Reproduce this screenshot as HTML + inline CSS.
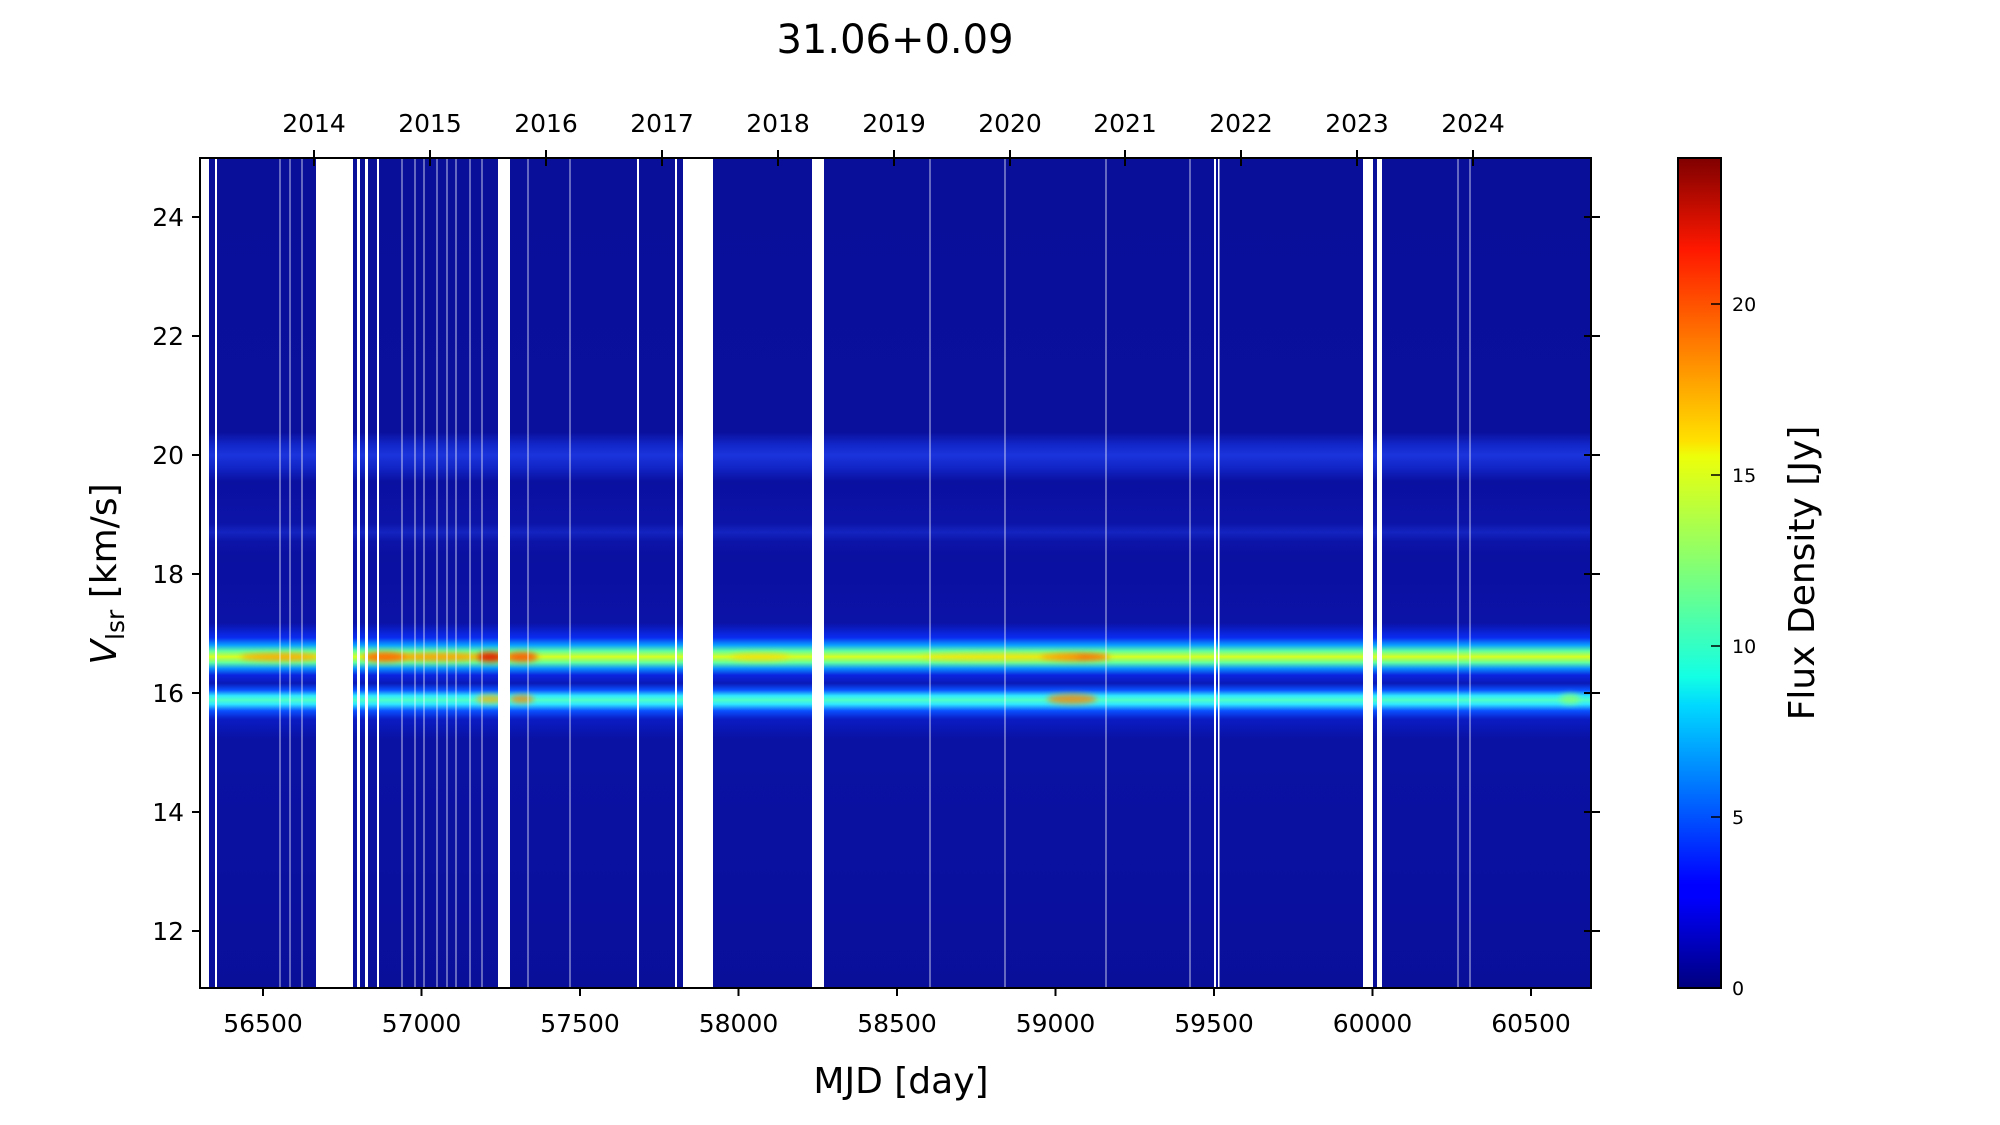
<!DOCTYPE html>
<html><head><meta charset="utf-8"><style>
html,body{margin:0;padding:0;background:#fff;}
svg{display:block;font-family:"DejaVu Sans","Liberation Sans",sans-serif;}
</style></head><body>
<svg width="2000" height="1125" viewBox="0 0 2000 1125" xmlns="http://www.w3.org/2000/svg">
<defs>
<linearGradient id="spec" x1="0" y1="158" x2="0" y2="988" gradientUnits="userSpaceOnUse">
<stop offset="0" stop-color="#0a0f9a"/>
<stop offset="0.33" stop-color="#0a0f9c"/>
<stop offset="0.345" stop-color="#1226c8"/>
<stop offset="0.358" stop-color="#1a34dc"/>
<stop offset="0.372" stop-color="#1226c8"/>
<stop offset="0.39" stop-color="#0a10a0"/>
<stop offset="0.44" stop-color="#0c14a8"/>
<stop offset="0.451" stop-color="#1424c0"/>
<stop offset="0.462" stop-color="#0c14a8"/>
<stop offset="0.48" stop-color="#0a10a0"/>
<stop offset="0.56" stop-color="#0b12a6"/>
<stop offset="0.578" stop-color="#0a2cf0"/>
<stop offset="0.587" stop-color="#0aa0ff"/>
<stop offset="0.594" stop-color="#60ffa0"/>
<stop offset="0.601" stop-color="#d8ff20"/>
<stop offset="0.608" stop-color="#60ffa0"/>
<stop offset="0.615" stop-color="#0a90ff"/>
<stop offset="0.623" stop-color="#0a24e0"/>
<stop offset="0.633" stop-color="#0a1ab8"/>
<stop offset="0.641" stop-color="#0a50ff"/>
<stop offset="0.648" stop-color="#30e8ff"/>
<stop offset="0.653" stop-color="#50ffc8"/>
<stop offset="0.658" stop-color="#30e8ff"/>
<stop offset="0.666" stop-color="#0a50ff"/>
<stop offset="0.676" stop-color="#0a1cc4"/>
<stop offset="0.7" stop-color="#0a12a4"/>
<stop offset="1" stop-color="#0a0f9a"/>
</linearGradient>
<linearGradient id="jet" x1="0" y1="988" x2="0" y2="158" gradientUnits="userSpaceOnUse">
<stop offset="0" stop-color="#00007f"/>
<stop offset="0.11" stop-color="#0000ff"/>
<stop offset="0.125" stop-color="#0000ff"/>
<stop offset="0.34" stop-color="#00d8ff"/>
<stop offset="0.375" stop-color="#13ffe4"/>
<stop offset="0.5" stop-color="#7dff7a"/>
<stop offset="0.64" stop-color="#ecff0a"/>
<stop offset="0.66" stop-color="#ffe000"/>
<stop offset="0.89" stop-color="#ff1800"/>
<stop offset="1" stop-color="#7f0000"/>
</linearGradient>
<filter id="bl"><feGaussianBlur stdDeviation="3"/></filter>
</defs>

<text x="895" y="53" font-size="40" text-anchor="middle">31.06+0.09</text>

<rect x="200" y="158" width="1391" height="830" fill="url(#spec)"/>
<g filter="url(#bl)">
<ellipse cx="280" cy="657" rx="40" ry="4" fill="#ff8a00" opacity="0.7"/>
<ellipse cx="390" cy="657" rx="25" ry="4" fill="#ffa000" opacity="0.6"/>
<ellipse cx="385" cy="657" rx="22" ry="5" fill="#ff5a00" opacity="0.8"/>
<ellipse cx="440" cy="657" rx="40" ry="4" fill="#ff7a00" opacity="0.7"/>
<ellipse cx="490" cy="657" rx="14" ry="5" fill="#e01000" opacity="0.9"/>
<ellipse cx="522" cy="657" rx="16" ry="5" fill="#ff4000" opacity="0.8"/>
<ellipse cx="490" cy="699" rx="14" ry="4" fill="#ffb000" opacity="0.8"/>
<ellipse cx="522" cy="699" rx="12" ry="4" fill="#ff8000" opacity="0.8"/>
<ellipse cx="760" cy="657" rx="30" ry="4" fill="#ffd000" opacity="0.6"/>
<ellipse cx="1075" cy="657" rx="35" ry="4" fill="#ff5000" opacity="0.8"/>
<ellipse cx="1072" cy="699" rx="25" ry="5" fill="#ff8000" opacity="0.8"/>
<ellipse cx="1000" cy="657" rx="80" ry="4" fill="#ffd000" opacity="0.5"/>
<ellipse cx="1570" cy="699" rx="10" ry="5" fill="#90ff60" opacity="0.7"/>
</g>
<g fill="#fff">
<rect x="200" y="158" width="9" height="830"/>
<rect x="215" y="158" width="2" height="830"/>
<rect x="316" y="158" width="37" height="830"/>
<rect x="357" y="158" width="3" height="830"/>
<rect x="365" y="158" width="3" height="830"/>
<rect x="377" y="158" width="2" height="830"/>
<rect x="498" y="158" width="12" height="830"/>
<rect x="637" y="158" width="2" height="830"/>
<rect x="675" y="158" width="2" height="830"/>
<rect x="683" y="158" width="30" height="830"/>
<rect x="812" y="158" width="12" height="830"/>
<rect x="1363" y="158" width="10" height="830"/>
<rect x="1377" y="158" width="5" height="830"/>
<rect x="1214" y="158" width="2" height="830"/>
<rect x="1218" y="158" width="1.5" height="830"/>
</g>
<g stroke="#fff" stroke-width="1" opacity="0.75">
<line x1="280" y1="158" x2="280" y2="988"/><line x1="290" y1="158" x2="290" y2="988"/>
<line x1="302" y1="158" x2="302" y2="988"/><line x1="402" y1="158" x2="402" y2="988"/>
<line x1="415" y1="158" x2="415" y2="988"/><line x1="424" y1="158" x2="424" y2="988"/>
<line x1="437" y1="158" x2="437" y2="988"/><line x1="447" y1="158" x2="447" y2="988"/>
<line x1="456" y1="158" x2="456" y2="988"/><line x1="470" y1="158" x2="470" y2="988"/>
<line x1="482" y1="158" x2="482" y2="988"/><line x1="528" y1="158" x2="528" y2="988"/>
<line x1="570" y1="158" x2="570" y2="988"/><line x1="1005" y1="158" x2="1005" y2="988"/>
<line x1="1190" y1="158" x2="1190" y2="988"/><line x1="1458" y1="158" x2="1458" y2="988"/>
<line x1="1470" y1="158" x2="1470" y2="988"/><line x1="930" y1="158" x2="930" y2="988"/>
<line x1="1106" y1="158" x2="1106" y2="988"/>
</g>
<rect x="200" y="158" width="1391" height="830" fill="none" stroke="#000" stroke-width="2"/>

<g stroke="#000" stroke-width="2">
<line x1="263" y1="988" x2="263" y2="996"/><line x1="421.5" y1="988" x2="421.5" y2="996"/>
<line x1="580" y1="988" x2="580" y2="996"/><line x1="738.5" y1="988" x2="738.5" y2="996"/>
<line x1="897" y1="988" x2="897" y2="996"/><line x1="1055.5" y1="988" x2="1055.5" y2="996"/>
<line x1="1214" y1="988" x2="1214" y2="996"/><line x1="1372.5" y1="988" x2="1372.5" y2="996"/>
<line x1="1531" y1="988" x2="1531" y2="996"/>
<line x1="192" y1="931" x2="200" y2="931"/><line x1="192" y1="812" x2="200" y2="812"/>
<line x1="192" y1="693" x2="200" y2="693"/><line x1="192" y1="574" x2="200" y2="574"/>
<line x1="192" y1="455" x2="200" y2="455"/><line x1="192" y1="336" x2="200" y2="336"/>
<line x1="192" y1="217" x2="200" y2="217"/>
<line x1="1584" y1="931" x2="1600" y2="931"/><line x1="1584" y1="812" x2="1600" y2="812"/>
<line x1="1584" y1="693" x2="1600" y2="693"/><line x1="1584" y1="574" x2="1600" y2="574"/>
<line x1="1584" y1="455" x2="1600" y2="455"/><line x1="1584" y1="336" x2="1600" y2="336"/>
<line x1="1584" y1="217" x2="1600" y2="217"/>
<line x1="314" y1="150" x2="314" y2="166"/><line x1="430" y1="150" x2="430" y2="166"/>
<line x1="546" y1="150" x2="546" y2="166"/><line x1="662" y1="150" x2="662" y2="166"/>
<line x1="778" y1="150" x2="778" y2="166"/><line x1="894" y1="150" x2="894" y2="166"/>
<line x1="1010" y1="150" x2="1010" y2="166"/><line x1="1125" y1="150" x2="1125" y2="166"/>
<line x1="1241" y1="150" x2="1241" y2="166"/><line x1="1357" y1="150" x2="1357" y2="166"/>
<line x1="1473" y1="150" x2="1473" y2="166"/>
</g>
<g font-size="25" text-anchor="middle">
<text x="263" y="1032">56500</text><text x="421.5" y="1032">57000</text>
<text x="580" y="1032">57500</text><text x="738.5" y="1032">58000</text>
<text x="897" y="1032">58500</text><text x="1055.5" y="1032">59000</text>
<text x="1214" y="1032">59500</text><text x="1372.5" y="1032">60000</text>
<text x="1531" y="1032">60500</text>
<text x="314" y="132">2014</text><text x="430" y="132">2015</text>
<text x="546" y="132">2016</text><text x="662" y="132">2017</text>
<text x="778" y="132">2018</text><text x="894" y="132">2019</text>
<text x="1010" y="132">2020</text><text x="1125" y="132">2021</text>
<text x="1241" y="132">2022</text><text x="1357" y="132">2023</text>
<text x="1473" y="132">2024</text>
</g>
<g font-size="25" text-anchor="end">
<text x="184" y="940">12</text><text x="184" y="821">14</text>
<text x="184" y="702">16</text><text x="184" y="583">18</text>
<text x="184" y="464">20</text><text x="184" y="345">22</text>
<text x="184" y="226">24</text>
</g>
<text x="901" y="1093" font-size="36" text-anchor="middle">MJD [day]</text>
<text transform="translate(116,574) rotate(-90)" font-size="36" text-anchor="middle"><tspan font-style="italic">V</tspan><tspan font-size="25" dy="8">lsr</tspan><tspan dy="-8"> [km/s]</tspan></text>

<rect x="1678" y="158" width="43" height="830" fill="url(#jet)" stroke="#000" stroke-width="2"/>
<g stroke="#000" stroke-width="1.5">
<line x1="1711" y1="817" x2="1721" y2="817"/><line x1="1711" y1="646" x2="1721" y2="646"/>
<line x1="1711" y1="475" x2="1721" y2="475"/><line x1="1711" y1="304" x2="1721" y2="304"/>
</g>
<g font-size="19">
<text x="1732" y="995">0</text><text x="1732" y="824">5</text>
<text x="1732" y="653">10</text><text x="1732" y="482">15</text>
<text x="1732" y="311">20</text>
</g>
<text transform="translate(1814,573) rotate(-90)" font-size="36" text-anchor="middle">Flux Density [Jy]</text>
</svg>
</body></html>
